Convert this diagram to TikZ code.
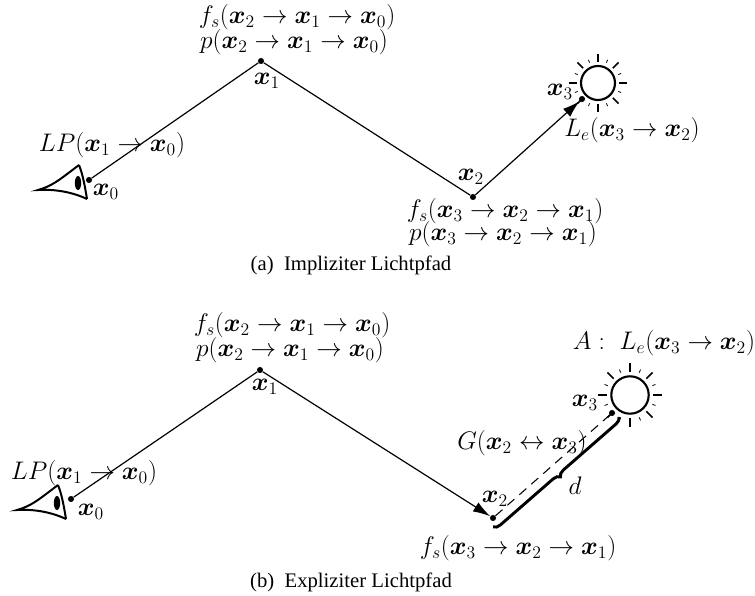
\documentclass[tikz,border=0pt]{standalone}
\usepackage{amsmath}
\usepackage{amssymb}
\usepackage{bm}
\usepackage{fontspec}
\newfontfamily\capfont{Liberation Serif}
\usetikzlibrary{
    arrows.meta,
    decorations.pathreplacing
}
\newcommand{\bx}[1]{\bm{x}_{#1}}
\tikzset{
  lbl/.style     = {inner sep=0pt, font=\LARGE, scale=1.108},
  captxt/.style  = {inner sep=0pt, font=\fontsize{15.6}{18}\capfont},
  pt/.style      = {circle, fill=black, inner sep=0pt, minimum size=4.6pt},
  arr/.style     = {-{Latex[length=13pt,width=8pt]}, line width=0.9pt},
  ray/.style     = {line width=1.2pt},
  sray/.style    = {line width=0.6pt},
  sunpic/.pic    = {
    \draw[line width=1.6pt] (0,0) circle (17);
    \foreach \a in {0,45,...,315} \draw[ray] (\a:21) -- (\a:29);
    \foreach \a in {22.5,67.5,...,337.5} \draw[sray] (\a:22) -- (\a:25);
  },
  eyepic/.pic    = {
    \draw[line width=1.5pt] (-1,-18) .. controls (-22,-2) and (-28,3) .. (-42,7)
      .. controls (-25,6) and (-8,9) .. (7,16);
    \draw[line width=1.5pt] (-1,-18) .. controls (3,-8) and (5,4) .. (7,16);
    \fill (-2,0) ellipse (3.2 and 7);
  }
}

\begin{document}
\begin{tikzpicture}[x=0.02649cm,y=-0.02649cm]
\useasboundingbox (0,0) rectangle (755,596);
% implicit path
\pic at (80,183) {eyepic};
\pic at (598,83) {sunpic};
\node[pt] (a0) at (89,180) {};
\node[pt] (a1) at (261,61) {};
\node[pt] (a2) at (473,197) {};
\node[pt] (a3) at (582,99) {};
\draw[line width=0.9pt] (a0) -- (a1) -- (a2);
\draw[arr] (a2) -- (a3);
\node[lbl] (afs1) at (297,17) {$f_s(\bx{2} \rightarrow \bx{1} \rightarrow \bx{0})$};
\node[lbl] (ap1) at (294,42) {$p(\bx{2} \rightarrow \bx{1} \rightarrow \bx{0})$};
\node[lbl] (alx1) at (267,81) {$\bx{1}$};
\node[lbl] (alx0) at (106,192) {$\bx{0}$};
\node[lbl] (alp) at (112,145) {$LP(\bx{1} \rightarrow \bx{0})$};
\node[lbl] (alx2) at (471,177) {$\bx{2}$};
\node[lbl] (alx3) at (560,92) {$\bx{3}$};
\node[lbl] (ale) at (632,130) {$L_e(\bx{3} \rightarrow \bx{2})$};
\node[lbl] (afs2) at (505,211) {$f_s(\bx{3} \rightarrow \bx{2} \rightarrow \bx{1})$};
\node[lbl] (ap2) at (503,234) {$p(\bx{3} \rightarrow \bx{2} \rightarrow \bx{1})$};
\node[captxt] (acap) at (351,265) {(a)\ \ Impliziter Lichtpfad};
% explicit path
\pic at (59,503) {eyepic};
\pic[scale=1.1] at (630,395) {sunpic};
\node[pt] (b0) at (71,499) {};
\node[pt] (b1) at (260,370) {};
\node[pt] (b2) at (493,518) {};
\node[pt] (b3) at (612,413) {};
\coordinate (br1) at (619,417);
\coordinate (br2) at (493,527);
\draw[line width=0.9pt] (b0) -- (b1);
\draw[arr] (b1) -- (b2);
\draw[line width=0.8pt, dash pattern=on 7pt off 5pt] (b2) -- (b3);
\draw[line width=2.2pt, decorate, decoration={brace, amplitude=5pt}] (br1) -- (br2);
\node[lbl] (bfs1) at (292,325) {$f_s(\bx{2} \rightarrow \bx{1} \rightarrow \bx{0})$};
\node[lbl] (bp1) at (290,350) {$p(\bx{2} \rightarrow \bx{1} \rightarrow \bx{0})$};
\node[lbl] (blx1) at (265,387) {$\bx{1}$};
\node[lbl] (blx0) at (91,512) {$\bx{0}$};
\node[lbl] (blp) at (84,473) {$LP(\bx{1} \rightarrow \bx{0})$};
\node[lbl] (blx2) at (495,499) {$\bx{2}$};
\node[lbl] (blx3) at (585,403) {$\bx{3}$};
\node[lbl] (bla) at (664,343) {$A:\ L_e(\bx{3} \rightarrow \bx{2})$};
\node[lbl] (bg) at (522,443) {$G(\bx{2} \leftrightarrow \bx{3})$};
\node[lbl] (bd) at (575,486) {$d$};
\node[lbl] (bfs2) at (518,548) {$f_s(\bx{3} \rightarrow \bx{2} \rightarrow \bx{1})$};
\node[captxt] (bcap) at (351,582) {(b)\ \ Expliziter Lichtpfad};
\end{tikzpicture}
\end{document}
